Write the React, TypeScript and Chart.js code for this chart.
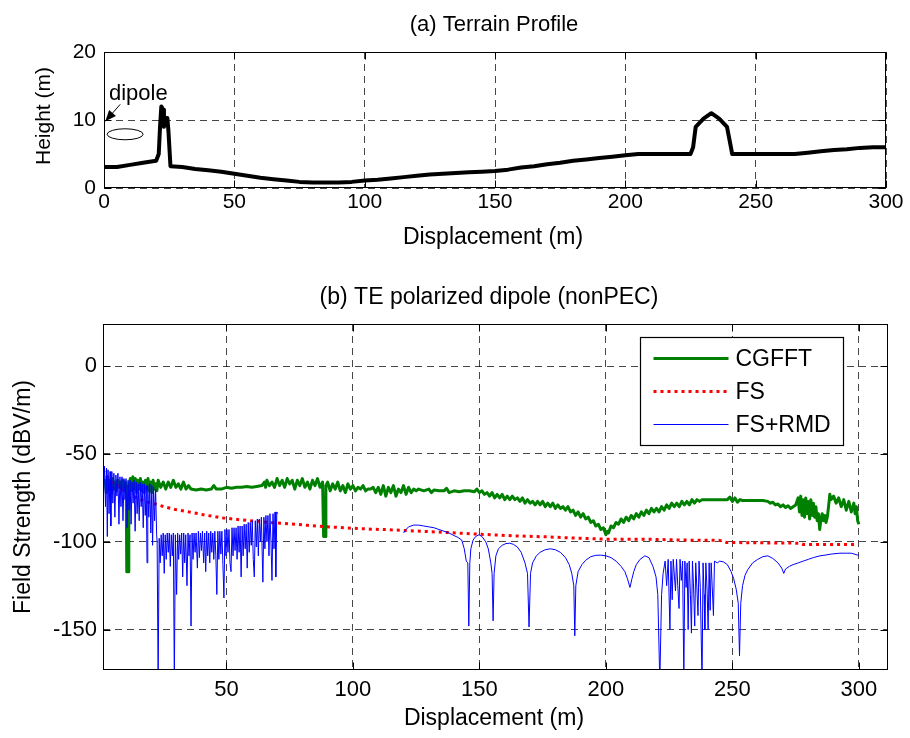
import React, { useEffect, useRef } from "react";
import { Chart, registerables } from "chart.js";
Chart.register(...registerables);

const FONT = "'Liberation Sans', Arial, Helvetica, sans-serif";

// ---------- (a) Terrain profile ----------
const TERRAIN: [number, number][] = [
  [0, 3.1], [5, 3.1], [10, 3.4], [15, 3.7], [20, 4.0], [21, 5], [21.5, 9], [22, 12], [22.7, 11.5], [23, 9],
  [23.5, 10.3], [24.3, 10.3], [24.7, 8.5], [25.5, 3.2], [30, 3.1], [35, 2.8], [40, 2.6], [45, 2.4], [50, 2.1],
  [55, 1.8], [60, 1.5], [65, 1.3], [70, 1.1], [75, 0.9], [80, 0.8], [85, 0.8], [90, 0.8], [95, 0.9], [100, 1.1],
  [105, 1.2], [110, 1.4], [115, 1.6], [120, 1.8], [125, 2.0], [130, 2.1], [135, 2.2], [140, 2.3], [145, 2.4],
  [150, 2.5], [155, 2.7], [160, 3.0], [165, 3.2], [170, 3.5], [175, 3.7], [180, 4.0], [185, 4.2], [190, 4.4],
  [195, 4.6], [200, 4.8], [205, 5.0], [210, 5.0], [215, 5.0], [220, 5.0], [225, 5.0], [226, 6], [227, 9],
  [230, 10.2], [233, 11], [236, 10.2], [239, 9], [240.5, 6], [241, 5], [245, 5], [250, 5], [255, 5], [260, 5],
  [265, 5], [270, 5.2], [275, 5.4], [280, 5.6], [285, 5.7], [290, 5.9], [295, 6.0], [300, 6.0],
];
const TOP_X_TICKS = [0, 50, 100, 150, 200, 250, 300];
const TOP_Y_TICKS = [0, 10, 20];

// ---------- (b) Field strength ----------
const CGFFT: [number, number][] = [
  [2, -64], [2.5, -72], [3, -63], [3.5, -70], [4, -65], [4.5, -71], [5, -64], [5.5, -70], [6, -66], [6.5, -71],
  [7, -65], [7.5, -69], [8, -66], [8.5, -70], [9, -65], [9.5, -69], [10, -66], [10.4, -70], [10.6, -117], [11.2, -117],
  [11.4, -68], [12, -64], [12.5, -71], [13, -63], [13.5, -70], [14, -64], [14.5, -72], [15, -65], [15.5, -70], [16, -64],
  [16.5, -71], [17, -66], [17.5, -72], [18, -65], [18.5, -70], [19, -64], [19.5, -71], [20, -66], [20.5, -72], [21, -65],
  [21.5, -70], [22, -67], [22.5, -71], [23, -65], [24, -69], [25, -66], [26, -70], [27, -66], [28, -69], [29, -65],
  [30, -69], [31, -67], [32, -70], [33, -66], [34, -70], [35, -68], [36, -70], [38, -70.5], [40, -70], [42, -70.5],
  [44, -70], [45, -68], [46, -70], [48, -70], [50, -69], [52, -69.5], [54, -69], [56, -69], [58, -68.5], [60, -69],
  [62, -68.5], [64, -68], [65, -66], [65.5, -69], [66, -65], [67, -68], [68, -66], [69, -69], [70, -64], [71, -68],
  [72, -65], [73, -69], [74, -64], [75, -67], [76, -65], [77, -70], [78, -65], [79, -68], [80, -64], [81, -69],
  [82, -66], [83, -70], [84, -65], [85, -68], [86, -64], [87, -69], [88, -66], [88.4, -97], [89, -97], [89.3, -68],
  [90, -66], [91, -71], [92, -67], [93, -70], [94, -66], [95, -71], [96, -68], [97, -72], [98, -67], [99, -70],
  [100, -68], [101, -71], [102, -69], [103, -70], [104, -68], [105, -71], [106, -70], [107, -70], [108, -69], [109, -72],
  [110, -69], [111, -73], [112, -68], [113, -74], [114, -69], [115, -72], [116, -68], [117, -74], [118, -70], [119, -72],
  [120, -68], [121, -73], [122, -69], [123, -72], [124, -70], [125, -71], [126, -70], [128, -71], [130, -70], [131, -72],
  [132, -70.5], [134, -71], [136, -71], [137, -69.5], [138, -72], [140, -71], [142, -71.5], [144, -71], [146, -71], [148, -71.5],
  [149, -70], [150, -72], [151, -71], [152, -73], [153, -72], [154, -74], [155, -72], [156, -75], [157, -73], [158, -75],
  [159, -73], [160, -76], [161, -74], [162, -76], [163, -74], [164, -76], [165, -75], [166, -77], [167, -75], [168, -78],
  [169, -76], [170, -78], [171, -77], [172, -79], [173, -77], [174, -79], [175, -77], [176, -80], [177, -78], [178, -80],
  [179, -78], [180, -81], [181, -79], [182, -81], [183, -80], [184, -82], [185, -80], [186, -83], [187, -82], [188, -85],
  [189, -83], [190, -86], [191, -84], [192, -87], [193, -86], [194, -89], [195, -88], [196, -91], [197, -90], [198, -93],
  [199, -92], [200, -96], [200.5, -94], [201, -95], [202, -91], [203, -92], [204, -89], [205, -90], [206, -87], [207, -89],
  [208, -86], [209, -88], [210, -85], [211, -87], [212, -84], [213, -86], [214, -83], [215, -85], [216, -82], [217, -84],
  [218, -81], [219, -83], [220, -81], [221, -83], [222, -80], [223, -82], [224, -79], [225, -81], [226, -78], [227, -80],
  [228, -78], [229, -80], [230, -77], [231, -79], [232, -77], [233, -79], [234, -76], [235, -78], [236, -76], [237, -77],
  [238, -76], [240, -76], [242, -76], [244, -76], [246, -76], [248, -76], [249, -74.5], [250, -77], [251, -75], [252, -77.5],
  [253, -76], [254, -76.5], [256, -76.5], [258, -76.5], [260, -76.5], [262, -76.5], [264, -77], [265, -78], [266, -77.5], [267, -79],
  [268, -78.5], [269, -80], [270, -79], [271, -80.5], [272, -79.5], [273, -81], [274, -80], [275, -79], [276, -75], [276.5, -83],
  [277, -74], [277.5, -85], [278, -76], [278.5, -86], [279, -75], [279.5, -84], [280, -77], [280.5, -87], [281, -76], [281.5, -85],
  [282, -78], [282.5, -86], [283, -80], [283.5, -88], [284, -84], [284.5, -93], [285, -87], [285.5, -84], [286, -88], [286.5, -85],
  [287, -89], [287.5, -86], [288, -80], [288.5, -73], [289, -76], [290, -74], [291, -78], [292, -75], [293, -80], [294, -76],
  [295, -82], [296, -77], [297, -83], [298, -78], [298.5, -84], [299, -80], [299.5, -88], [300, -90],
];

const FS: [number, number][] = [
  [1.2, -59], [2, -61.5], [3.3, -64.2], [5, -66.5], [7, -68.5], [10, -71.5], [13, -74], [16, -76], [19, -77.5],
  [22.4, -78.7], [26, -80.3], [30, -81.7], [35.6, -83.1], [42, -84.9], [48.7, -86.4], [55, -87.4], [61.9, -88.3],
  [68, -89.1], [75.1, -89.8], [82, -90.6], [88.3, -91.3], [94, -91.8], [100.1, -92.3], [107, -92.8], [114, -93.1],
  [123.8, -93.8], [137, -94.7], [150.2, -95.7], [163.4, -96.6], [176.6, -97.2], [189.7, -98], [200.3, -98.5],
  [216, -98.5], [229.2, -99], [245, -99.2], [247.7, -100.4], [262, -100.6], [276.7, -100.8], [278, -101.5],
  [290, -101.5], [299.5, -101.5],
];

// null value = gap in the FS+RMD curve
const FS_RMD: [number, number | null][] = [
  [1, -52], [1.4, -72], [1.8, -57], [2.2, -80], [2.6, -58], [2.9, -97], [3.2, -59], [3.6, -84], [4, -60], [4.3, -91],
  [4.7, -60], [5.1, -78], [5.5, -61], [5.9, -86], [6.3, -62], [6.7, -74], [7.1, -61], [7.5, -90], [7.9, -63], [8.3, -80],
  [8.7, -63], [9.1, -88], [9.5, -64], [9.9, -76], [10.3, -64], [10.7, -92], [11.1, -65], [11.5, -82], [11.9, -65], [12.3, -90],
  [12.7, -66], [13.1, -78], [13.5, -65], [13.9, -94], [14.3, -66], [14.7, -84], [15.1, -67], [15.5, -88], [15.9, -66], [16.3, -80],
  [16.7, -67], [17.1, -92], [17.5, -67], [17.9, -85], [18.3, -68], [18.6, -112], [18.9, -68], [19.3, -86], [19.7, -67], [20.1, -95],
  [20.5, -68], [20.8, -102], [21.2, -69], [21.6, -88], [22, -70], [22.4, -96],
  [22.6, -100], [23, -180], [23.4, -98], [23.8, -112], [24.2, -96], [24.6, -108], [25, -95], [25.4, -118], [25.8, -96], [26.2, -110],
  [26.6, -95], [27, -106], [27.4, -95], [27.8, -114], [28.2, -96], [28.6, -108], [29, -95], [29.4, -180], [29.8, -96], [30.3, -130],
  [30.7, -95], [31.1, -110], [31.5, -96], [31.9, -107], [32.3, -95], [32.7, -120], [33.1, -95], [33.5, -112], [33.9, -96], [34.4, -125],
  [34.8, -95], [35.2, -108], [35.6, -96], [36, -148], [36.4, -95], [36.8, -110], [37.2, -95], [37.6, -106], [38, -95], [38.5, -115],
  [38.9, -94], [39.3, -109], [39.7, -95], [40.1, -105], [40.5, -94], [41, -112], [41.4, -95], [41.8, -117], [42.2, -94], [42.6, -108],
  [43, -95], [43.4, -112], [43.8, -94], [44.2, -106], [44.6, -95], [45, -110], [45.4, -94], [45.8, -108], [46.2, -130], [46.6, -94],
  [47, -110], [47.4, -94], [47.8, -107], [48.2, -94], [48.6, -113], [49, -132], [49.4, -93], [49.8, -108], [50.2, -93], [50.6, -106],
  [51, -93], [51.4, -112], [51.8, -117], [52.2, -92], [52.6, -108], [53, -92], [53.4, -105], [53.8, -92], [54.2, -110], [54.6, -91],
  [55, -106], [55.4, -91], [55.8, -120], [56.2, -91], [56.6, -108], [57, -90], [57.4, -104], [57.8, -90], [58.2, -115], [58.6, -89],
  [59, -106], [59.4, -89], [59.8, -102], [60.2, -88], [60.6, -110], [61, -120], [61.4, -88], [61.8, -103], [62.2, -87], [62.6, -108],
  [63, -87], [63.4, -100], [63.8, -86], [64.4, -123], [64.8, -86], [65.2, -104], [65.6, -85], [66, -100], [66.4, -85], [66.8, -108],
  [67.2, -84], [67.6, -100], [68, -122], [68.4, -84], [68.8, -104], [69.2, -83], [69.5, -120], [69.9, -83], [70.2, -84],
  [71, null],
  [120, -95], [121, -93], [122, -91.5], [124, -90.5], [126, -90.5], [128, -91], [130, -91.5], [132, -92], [134, -93], [136, -94],
  [138, -95], [140, -96.5], [141.5, -97.5], [143, -99], [144, -104], [144.8, -111], [145.4, -112], [145.8, -148], [146.2, -112], [146.6, -104],
  [147.5, -99], [148.5, -97], [149.8, -96], [151, -97], [152.5, -100], [153.5, -104], [154.5, -112], [155, -118], [155.4, -145], [155.8, -118],
  [156.5, -108], [157.5, -104], [159, -102], [160.5, -101], [162, -100.8], [163.5, -101.5], [165, -103], [166.5, -106], [168, -112], [169, -118],
  [169.6, -148.5], [170.2, -118], [171, -112], [172.5, -108], [174, -106], [176, -104.5], [178, -104], [180, -104.5], [182, -106], [184, -109],
  [185.5, -113], [186.5, -118], [187.3, -125], [187.7, -153.5], [188.1, -125], [189, -117], [190.5, -113], [192, -110.5], [194, -108.5], [196, -107.7],
  [198, -107.6], [200, -108], [202, -109], [204, -111], [206, -114], [207.5, -117], [208.5, -121], [209.5, -126], [210.3, -121], [211, -117],
  [212, -113], [213.5, -110], [215.4, -108], [217, -109], [218.6, -114], [219.8, -120], [220.5, -130], [221.3, -180], [222, -130],
  [222.6, -118], [223.4, -111], [224, -125], [224.6, -110], [225.3, -150], [225.7, -111], [226.2, -133], [226.6, -110], [227.1, -120], [227.5, -128],
  [227.9, -110], [228.4, -125], [228.9, -138], [229.3, -110], [229.8, -122], [230.3, -111], [230.8, -180], [231.2, -111], [231.7, -126], [232.1, -112],
  [232.5, -150], [232.9, -111], [233.4, -130], [233.8, -152], [234.2, -111], [234.6, -124], [235.1, -148], [235.5, -112], [236, -128], [236.4, -142],
  [236.8, -111], [237.3, -126], [238, -180], [238.4, -112], [238.8, -130], [239.1, -150], [239.5, -112], [240, -128], [240.4, -150], [240.8, -112],
  [241.2, -139], [241.6, -112], [242, -125], [242.5, -142], [242.9, -111],
  [244, -112], [245, -111], [246.5, -111.5], [248, -113], [249.5, -117], [250.5, -121], [251.5, -127], [252.3, -135], [252.8, -165], [253.3, -135],
  [254, -125], [255, -119], [256, -116], [258, -112], [260, -110], [262, -108.5], [264, -108], [266, -109.5], [268, -112], [269.5, -115],
  [270.3, -118], [271, -115.5], [272.5, -114], [274, -113], [276, -112], [278, -111], [280, -110], [282, -109], [284.6, -108], [287, -107.5],
  [289, -107], [292.5, -106.5], [295, -106.5], [297, -106.5], [299.6, -107.6], [300, -107.6],
];

const BOT_X_TICKS = [50, 100, 150, 200, 250, 300];
const BOT_Y_TICKS = [-150, -100, -50, 0];
const LEGEND_LABELS = ["CGFFT", "FS", "FS+RMD"];

const GREEN = "#008000";
const RED = "#ff0000";
const BLUE = "#0000ff";

const toXY = (arr: [number, number | null][]) => arr.map(([x, y]) => ({ x, y }));

function framePlugin(xTicks: number[], yTicks: number[]) {
  return {
    id: "frameTicks",
    afterDatasetsDraw(chart: any) {
      const { ctx, chartArea } = chart;
      const { left, right, top, bottom } = chartArea;
      const xs = chart.scales.x;
      const ys = chart.scales.y;
      ctx.save();
      ctx.strokeStyle = "#000";
      ctx.lineWidth = 1;
      ctx.setLineDash([]);
      const L = Math.round(left) + 0.5, R = Math.round(right) - 0.5;
      const T = Math.round(top) + 0.5, B = Math.round(bottom) - 0.5;
      ctx.strokeRect(L, T, R - L, B - T);
      ctx.beginPath();
      const len = 7;
      for (const v of xTicks) {
        const p = Math.round(xs.getPixelForValue(v)) + 0.5;
        ctx.moveTo(p, B); ctx.lineTo(p, B - len);
        ctx.moveTo(p, T); ctx.lineTo(p, T + len);
      }
      for (const v of yTicks) {
        const p = Math.round(ys.getPixelForValue(v)) + 0.5;
        ctx.moveTo(L, p); ctx.lineTo(L + len, p);
        ctx.moveTo(R, p); ctx.lineTo(R - len, p);
      }
      ctx.stroke();
      ctx.restore();
    },
  };
}

type TextSpec = { text: string; x: number; y: number; size: number; rotate?: boolean };

function textPlugin(texts: TextSpec[]) {
  return {
    id: "texts",
    afterDraw(chart: any) {
      const { ctx } = chart;
      ctx.save();
      ctx.fillStyle = "#000";
      ctx.textAlign = "center";
      ctx.textBaseline = "middle";
      for (const t of texts) {
        ctx.font = `${t.size}px ${FONT}`;
        if (t.rotate) {
          ctx.save();
          ctx.translate(t.x, t.y);
          ctx.rotate(-Math.PI / 2);
          ctx.fillText(t.text, 0, 0);
          ctx.restore();
        } else {
          ctx.fillText(t.text, t.x, t.y);
        }
      }
      ctx.restore();
    },
  };
}

const dipolePlugin = {
  id: "dipole",
  afterDatasetsDraw(chart: any) {
    const { ctx } = chart;
    const xs = chart.scales.x;
    const ys = chart.scales.y;
    ctx.save();
    ctx.strokeStyle = "#000";
    ctx.fillStyle = "#000";
    ctx.lineWidth = 1;
    // ellipse (dipole symbol)
    const cx = xs.getPixelForValue(8.1);
    const cy = ys.getPixelForValue(7.9);
    ctx.beginPath();
    ctx.ellipse(cx, cy, 18, 5.5, 0, 0, Math.PI * 2);
    ctx.stroke();
    // label
    ctx.font = `22px ${FONT}`;
    ctx.textAlign = "left";
    ctx.textBaseline = "alphabetic";
    ctx.fillText("dipole", xs.getPixelForValue(1.9), ys.getPixelForValue(12.9));
    // arrow
    const x1 = xs.getPixelForValue(6.2), y1 = ys.getPixelForValue(12.3);
    const x2 = xs.getPixelForValue(0.5), y2 = ys.getPixelForValue(9.8);
    ctx.beginPath();
    ctx.moveTo(x1, y1);
    ctx.lineTo(x2, y2);
    ctx.stroke();
    const ang = Math.atan2(y2 - y1, x2 - x1);
    const hl = 11, hw = 4.5;
    ctx.beginPath();
    ctx.moveTo(x2, y2);
    ctx.lineTo(x2 - hl * Math.cos(ang) + hw * Math.sin(ang), y2 - hl * Math.sin(ang) - hw * Math.cos(ang));
    ctx.lineTo(x2 - hl * Math.cos(ang) - hw * Math.sin(ang), y2 - hl * Math.sin(ang) + hw * Math.cos(ang));
    ctx.closePath();
    ctx.fill();
    ctx.restore();
  },
};

const legendPlugin = {
  id: "customLegend",
  afterDatasetsDraw(chart: any) {
    const { ctx, chartArea } = chart;
    const w = 203, h = 108;
    const bx = Math.round(chartArea.right - 45 - w) + 0.5;
    const by = Math.round(chartArea.top + 13) + 0.5;
    ctx.save();
    ctx.fillStyle = "#fff";
    ctx.fillRect(bx, by, w, h);
    ctx.strokeStyle = "#000";
    ctx.lineWidth = 1.2;
    ctx.setLineDash([]);
    ctx.strokeRect(bx, by, w, h);
    const styles = [
      { color: GREEN, width: 3, dash: [] as number[] },
      { color: RED, width: 3, dash: [3, 4] },
      { color: BLUE, width: 1, dash: [] as number[] },
    ];
    const rows = [21, 54, 87];
    ctx.font = `23px ${FONT}`;
    ctx.textAlign = "left";
    ctx.textBaseline = "middle";
    LEGEND_LABELS.forEach((lab, i) => {
      const s = styles[i];
      const yy = by + rows[i];
      ctx.beginPath();
      ctx.strokeStyle = s.color;
      ctx.lineWidth = s.width;
      ctx.setLineDash(s.dash);
      ctx.moveTo(bx + 13, yy);
      ctx.lineTo(bx + 88, yy);
      ctx.stroke();
      ctx.setLineDash([]);
      ctx.fillStyle = "#000";
      ctx.fillText(lab, bx + 95, yy + 1);
    });
    ctx.restore();
  },
};

function axisCommon(ticksArr: number[], size: number, padding: number, fit: (s: any) => void) {
  return {
    type: "linear" as const,
    afterBuildTicks: (s: any) => {
      s.ticks = ticksArr.map((v) => ({ value: v }));
    },
    afterFit: fit,
    grid: { color: "rgba(0,0,0,0.72)", lineWidth: 1, drawTicks: false },
    border: { display: false, dash: [7, 5] },
    ticks: {
      color: "#000",
      font: { size, family: FONT },
      padding,
      maxRotation: 0,
      autoSkip: false,
      callback: (v: any) => String(v),
    },
  };
}

export default function App() {
  const topRef = useRef<HTMLCanvasElement | null>(null);
  const botRef = useRef<HTMLCanvasElement | null>(null);

  useEffect(() => {
    Chart.defaults.font.family = FONT;
    Chart.defaults.color = "#000";

    const top = new Chart(topRef.current!, {
      type: "line",
      data: {
        datasets: [
          {
            data: toXY(TERRAIN),
            borderColor: "#000",
            borderWidth: 4,
            pointRadius: 0,
            tension: 0,
            borderJoinStyle: "round",
            fill: false,
          } as any,
        ],
      },
      options: {
        animation: false,
        responsive: false,
        devicePixelRatio: 1,
        events: [],
        layout: { padding: { left: 0, top: 52, right: 24, bottom: 22 } },
        plugins: { legend: { display: false }, tooltip: { enabled: false }, title: { display: false } },
        scales: {
          x: { ...axisCommon(TOP_X_TICKS, 21, 2, (s: any) => { s.height = 40; }), min: 0, max: 300 },
          y: { ...axisCommon(TOP_Y_TICKS, 21, 8, (s: any) => { s.width = 104; }), min: 0, max: 20 },
        } as any,
      },
      plugins: [
        framePlugin(TOP_X_TICKS, TOP_Y_TICKS),
        dipolePlugin,
        textPlugin([
          { text: "(a) Terrain Profile", x: 494, y: 25, size: 22 },
          { text: "Displacement (m)", x: 493, y: 238, size: 23 },
          { text: "Height (m)", x: 44, y: 116, size: 21, rotate: true },
        ]),
      ],
    });

    const bot = new Chart(botRef.current!, {
      type: "line",
      data: {
        datasets: [
          {
            label: LEGEND_LABELS[0],
            data: toXY(CGFFT),
            borderColor: GREEN,
            borderWidth: 3,
            pointRadius: 0,
            tension: 0,
            borderJoinStyle: "round",
            order: 2,
          },
          {
            label: LEGEND_LABELS[1],
            data: toXY(FS),
            borderColor: RED,
            borderWidth: 3,
            borderDash: [3, 4],
            pointRadius: 0,
            tension: 0,
            order: 1,
          },
          {
            label: LEGEND_LABELS[2],
            data: toXY(FS_RMD),
            borderColor: BLUE,
            borderWidth: 1,
            pointRadius: 0,
            tension: 0,
            spanGaps: false,
            order: 0,
          },
        ] as any,
      },
      options: {
        animation: false,
        responsive: false,
        devicePixelRatio: 1,
        events: [],
        layout: { padding: { left: 0, top: 74, right: 22, bottom: 28 } },
        plugins: { legend: { display: false }, tooltip: { enabled: false }, title: { display: false } },
        scales: {
          x: { ...axisCommon(BOT_X_TICKS, 22, 7, (s: any) => { s.height = 40; }), min: 1.2, max: 311.5 },
          y: { ...axisCommon(BOT_Y_TICKS, 22, 6, (s: any) => { s.width = 103; }), min: -173, max: 24 },
        } as any,
      },
      plugins: [
        framePlugin(BOT_X_TICKS, BOT_Y_TICKS),
        legendPlugin,
        textPlugin([
          { text: "(b) TE polarized dipole (nonPEC)", x: 489, y: 48, size: 23 },
          { text: "Displacement (m)", x: 494, y: 469, size: 23 },
          { text: "Field Strength (dBV/m)", x: 24, y: 247, size: 23, rotate: true },
        ]),
      ],
    });

    return () => {
      top.destroy();
      bot.destroy();
    };
  }, []);

  return (
    <div style={{ position: "absolute", left: 0, top: 0, width: 910, height: 738, background: "#fff" }}>
      <canvas ref={topRef} width={910} height={250} style={{ position: "absolute", left: 0, top: 0 }} />
      <canvas ref={botRef} width={910} height={488} style={{ position: "absolute", left: 0, top: 250 }} />
    </div>
  );
}
